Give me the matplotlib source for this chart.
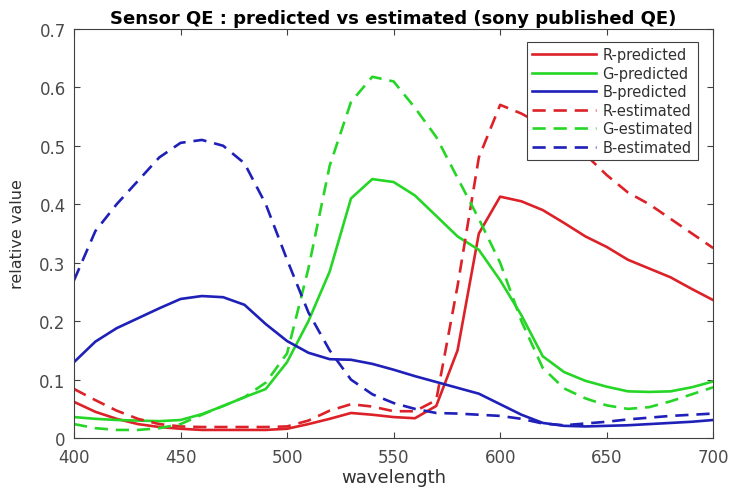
import matplotlib
matplotlib.use("Agg")
import matplotlib.pyplot as plt
import numpy as np

# wavelength grid (nm)
wavelength = np.arange(400, 701, 10)

r_pred = [0.062, 0.045, 0.033, 0.024, 0.019, 0.016, 0.014, 0.014, 0.014, 0.014,
          0.016, 0.024, 0.033, 0.043, 0.040, 0.036, 0.034, 0.055, 0.150, 0.350,
          0.413, 0.405, 0.390, 0.368, 0.345, 0.327, 0.305, 0.290, 0.275, 0.255,
          0.236]
g_pred = [0.036, 0.033, 0.031, 0.030, 0.029, 0.031, 0.041, 0.055, 0.070, 0.084,
          0.130, 0.200, 0.285, 0.410, 0.443, 0.438, 0.415, 0.380, 0.345, 0.322,
          0.270, 0.210, 0.140, 0.113, 0.098, 0.088, 0.080, 0.079, 0.080, 0.087,
          0.097]
b_pred = [0.130, 0.165, 0.188, 0.205, 0.222, 0.238, 0.243, 0.241, 0.228, 0.195,
          0.166, 0.146, 0.135, 0.134, 0.127, 0.117, 0.106, 0.096, 0.086, 0.076,
          0.058, 0.040, 0.026, 0.021, 0.020, 0.021, 0.022, 0.024, 0.026, 0.028,
          0.031]
r_est = [0.084, 0.065, 0.047, 0.033, 0.024, 0.020, 0.019, 0.019, 0.019, 0.019,
         0.020, 0.030, 0.047, 0.058, 0.054, 0.046, 0.046, 0.065, 0.260, 0.480,
         0.570, 0.555, 0.535, 0.510, 0.485, 0.450, 0.420, 0.400, 0.375, 0.350,
         0.325]
g_est = [0.024, 0.017, 0.014, 0.014, 0.017, 0.024, 0.040, 0.055, 0.070, 0.095,
         0.145, 0.290, 0.466, 0.575, 0.618, 0.610, 0.565, 0.515, 0.445, 0.375,
         0.300, 0.200, 0.120, 0.085, 0.068, 0.056, 0.050, 0.053, 0.063, 0.075,
         0.087]
b_est = [0.270, 0.354, 0.400, 0.440, 0.480, 0.505, 0.510, 0.500, 0.470, 0.400,
         0.305, 0.215, 0.150, 0.100, 0.075, 0.060, 0.050, 0.043, 0.042, 0.040,
         0.038, 0.033, 0.025, 0.022, 0.025, 0.028, 0.032, 0.035, 0.038, 0.040,
         0.042]

red, green, blue = '#dc2228', '#26d626', '#1e20b8'

fig = plt.figure(figsize=(7.33, 4.89), dpi=100)
ax = fig.add_axes([0.101, 0.102, 0.872, 0.837])

lw = 1.9
ax.plot(wavelength, r_pred, color=red, lw=lw, label='R-predicted')
ax.plot(wavelength, g_pred, color=green, lw=lw, label='G-predicted')
ax.plot(wavelength, b_pred, color=blue, lw=lw, label='B-predicted')
ax.plot(wavelength, r_est, color=red, lw=lw, dashes=(5, 3), label='R-estimated')
ax.plot(wavelength, g_est, color=green, lw=lw, dashes=(5, 3), label='G-estimated')
ax.plot(wavelength, b_est, color=blue, lw=lw, dashes=(5, 3), label='B-estimated')

ax.set_xlim(400, 700)
ax.set_ylim(0, 0.7)
ax.set_xticks(np.arange(400, 701, 50))
ax.set_yticks(np.arange(0, 0.71, 0.1))
ax.set_yticklabels(['0', '0.1', '0.2', '0.3', '0.4', '0.5', '0.6', '0.7'])
ax.tick_params(direction='in', top=True, right=True, labelsize=12,
               labelcolor='#4a4a4a', color='#404040', length=4)
ax.tick_params(axis='x', pad=7)
ax.tick_params(axis='y', pad=6)
for s in ax.spines.values():
    s.set_color('#404040')
    s.set_linewidth(0.8)

ax.set_title('Sensor QE : predicted vs estimated (sony published QE)',
             fontsize=13, fontweight='bold', pad=4)
ax.set_xlabel('wavelength', fontsize=13, color='#303030', labelpad=1.5)
ax.set_ylabel('relative value', fontsize=11.5, color='#303030', labelpad=10)

leg = ax.legend(loc='upper right', fontsize=10.5, handlelength=4.4,
                labelspacing=0.24, borderpad=0.35, handletextpad=0.4,
                fancybox=False, framealpha=1, edgecolor='#404040',
                bbox_to_anchor=(0.9875, 0.985))
leg.get_frame().set_linewidth(0.8)
for t in leg.get_texts():
    t.set_color('#303030')

fig.savefig('out.png', dpi=100)
